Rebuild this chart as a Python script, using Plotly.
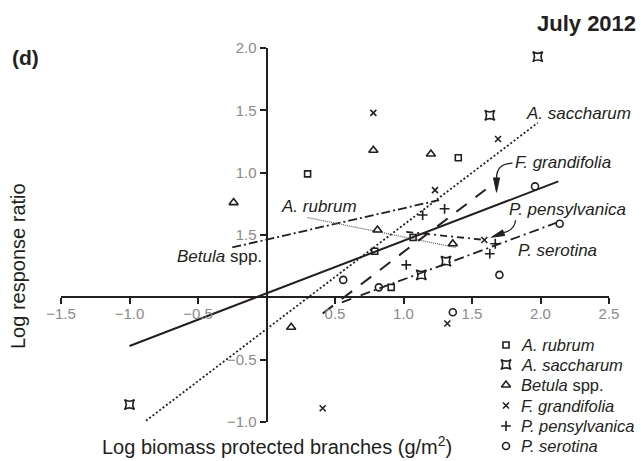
import plotly.graph_objects as go

# ---- observations: log biomass of protected branches vs log response ratio ----
legend_names = ["<i>A. rubrum</i>", "<i>A. saccharum</i>", "<i>Betula</i> spp.",
                "<i>F. grandifolia</i>", "<i>P. pensylvanica</i>", "<i>P. serotina</i>"]

rubrum_x = [0.30, 1.40, 0.79, 1.07, 0.91]
rubrum_y = [0.99, 1.12, 0.37, 0.48, 0.08]

saccharum_x = [1.98, 1.63, -1.00, 1.13, 1.31]
saccharum_y = [1.93, 1.46, -0.86, 0.18, 0.29]

betula_x = [-0.24, 0.18, 0.78, 1.20, 0.81, 1.36]
betula_y = [0.76, -0.24, 1.18, 1.15, 0.54, 0.43]

grandifolia_x = [0.78, 1.69, 1.23, 1.59, 1.32, 0.41]
grandifolia_y = [1.48, 1.27, 0.86, 0.46, -0.21, -0.89]

pensylvanica_x = [1.02, 1.14, 1.30, 1.67, 1.63]
pensylvanica_y = [0.26, 0.66, 0.71, 0.43, 0.35]

serotina_x = [0.56, 0.82, 1.36, 1.70, 1.96, 2.14]
serotina_y = [0.14, 0.08, -0.12, 0.18, 0.89, 0.59]

# ---- fitted regression lines (end points) ----
pooled_fit_x = [-1.00, 2.13]
pooled_fit_y = [-0.39, 0.93]
saccharum_fit_x = [-0.88, 1.98]
saccharum_fit_y = [-0.99, 1.40]
betula_fit_x = [-0.25, 1.26]
betula_fit_y = [0.40, 0.78]
rubrum_fit_x = [0.30, 1.38]
rubrum_fit_y = [0.64, 0.40]
grandifolia_fit_x = [0.41, 1.60]
grandifolia_fit_y = [-0.13, 0.865]
pensylvanica_fit_x = [1.02, 1.60]
pensylvanica_fit_y = [0.525, 0.46]
serotina_fit_x = [0.55, 2.12]
serotina_fit_y = [-0.04, 0.60]

# ---- tick labels ----
x_tickvals = [-1.5, -1.0, -0.5, 0.5, 1.0, 1.5, 2.0, 2.5]
x_ticktext = ["\u22121.5", "\u22121.0", "\u22120.5", "0.5", "1.0", "1.5", "2.0", "2.5"]
y_tickvals = [-1.0, -0.5, 0.5, 1.0, 1.5, 2.0]
y_ticktext = ["\u22121.0", "\u22120.5", "1.5", "1.0", "1.5", "2.0"]

X_RANGE = [-1.5, 2.5]
Y_RANGE = [-1.0, 2.0]

W, H = 641, 461
FRAME_L, FRAME_R, FRAME_T, FRAME_B = 61, 609, 48, 422   # data frame, in px

INK = "#231f20"
GREY = "#8a8a8a"
FONT = "Liberation Sans, Arial, Helvetica, sans-serif"

fig = go.Figure()

# regression lines
fits = [
    (pooled_fit_x, pooled_fit_y, dict(color=INK, width=2)),
    (saccharum_fit_x, saccharum_fit_y, dict(color=INK, width=1.8, dash="2px,2.2px")),
    (betula_fit_x, betula_fit_y, dict(color=INK, width=1.8, dash="9px,3px,2px,3px")),
    (rubrum_fit_x, rubrum_fit_y, dict(color="#666666", width=1.3, dash="1px,1px")),
    (grandifolia_fit_x, grandifolia_fit_y, dict(color=INK, width=2, dash="13px,11px")),
    (pensylvanica_fit_x, pensylvanica_fit_y, dict(color=INK, width=1.8, dash="7px,4px,2px,4px")),
    (serotina_fit_x, serotina_fit_y, dict(color=INK, width=1.8, dash="10px,4px,2px,4px")),
]
for fx, fy, ln in fits:
    fig.add_trace(go.Scatter(x=fx, y=fy, mode="lines", line=ln,
                             showlegend=False, hoverinfo="skip"))

# observed points, one trace per species
marker_styles = [
    ("square-open", 6),
    ("star-square-open", 9),
    ("triangle-up-open", 8),
    ("x-thin-open", 6),
    ("cross-thin-open", 7),
    ("circle-open", 7),
]
series = [(rubrum_x, rubrum_y), (saccharum_x, saccharum_y), (betula_x, betula_y),
          (grandifolia_x, grandifolia_y), (pensylvanica_x, pensylvanica_y),
          (serotina_x, serotina_y)]
for (px, py), (sym, sz), name in zip(series, marker_styles, legend_names):
    fig.add_trace(go.Scatter(
        x=px, y=py, mode="markers", name=name, cliponaxis=False, showlegend=False,
        marker=dict(symbol=sym, size=sz, color=INK, line=dict(color=INK, width=1.6)),
    ))

# key in the lower right, placed on a full-figure px-scaled axis pair (x2 / y2)
key_sym_x = 506
key_text_x = 519
key_rows_y = [345, 364.5, 385, 405.5, 426, 446]
for (sym, sz), name, ky in zip(marker_styles, legend_names, key_rows_y):
    fig.add_trace(go.Scatter(
        x=[key_sym_x], y=[ky], xaxis="x2", yaxis="y2", mode="markers",
        cliponaxis=False, showlegend=False, hoverinfo="skip",
        marker=dict(symbol=sym, size=sz, color=INK, line=dict(color=INK, width=1.6)),
    ))
    fig.add_annotation(xref="x2", yref="y2", x=key_text_x, y=ky, text=name,
                       showarrow=False, xanchor="left", yanchor="middle",
                       font=dict(family=FONT, size=16.5, color=INK))

# species labels on the lines
label_font = dict(family=FONT, size=17, color=INK)
labels = [
    (1.876, 1.478, "<i>A. saccharum</i>", "left"),
    (1.80, 1.079, "<i>F. grandifolia</i>", "left"),
    (1.752, 0.704, "<i>P. pensylvanica</i>", "left"),
    (1.818, 0.378, "<i>P. serotina</i>", "left"),
    (0.09, 0.725, "<i>A. rubrum</i>", "left"),
    (-0.015, 0.33, "<i>Betula</i> spp.", "right"),
]
for lx, ly, txt, anchor in labels:
    fig.add_annotation(x=lx, y=ly, text=txt, showarrow=False, xanchor=anchor,
                       yanchor="middle", font=label_font)

# curved leader arrows from labels to their lines, with filled heads
leader = dict(color=INK, width=1.3)
fig.add_shape(type="path", path="M 1.796,1.076 Q 1.679,1.076 1.679,0.956",
              line=leader, xref="x", yref="y")
fig.add_shape(type="path", path="M 1.657,0.958 L 1.701,0.958 L 1.679,0.843 Z",
              line=dict(color=INK, width=1), fillcolor=INK, xref="x", yref="y")
fig.add_shape(type="path", path="M 1.818,0.618 Q 1.810,0.538 1.730,0.519",
              line=leader, xref="x", yref="y")
fig.add_shape(type="path", path="M 1.739,0.496 L 1.723,0.541 L 1.642,0.482 Z",
              line=dict(color=INK, width=1), fillcolor=INK, xref="x", yref="y")

# panel letter and date
fig.add_annotation(xref="x2", yref="y2", x=10, y=57, text="<b>(d)</b>",
                   showarrow=False, xanchor="left", yanchor="middle",
                   font=dict(family=FONT, size=21, color=INK))
fig.add_annotation(xref="x2", yref="y2", x=638, y=23, text="<b>July 2012</b>",
                   showarrow=False, xanchor="right", yanchor="middle",
                   font=dict(family=FONT, size=22, color=INK))

# axis titles
fig.add_annotation(xref="x2", yref="y2", x=277, y=445,
                   text="Log biomass protected branches (g/m<sup>2</sup>)",
                   showarrow=False, xanchor="center", yanchor="middle",
                   font=dict(family=FONT, size=20, color=INK))
fig.add_annotation(xref="x2", yref="y2", x=18, y=266,
                   text="Log response ratio", textangle=-90,
                   showarrow=False, xanchor="center", yanchor="middle",
                   font=dict(family=FONT, size=20, color=INK))

# data axes: domains in figure fractions, each axis crossing the other at zero
x_dom = [FRAME_L / W, FRAME_R / W]
y_dom = [(H - FRAME_B) / H, (H - FRAME_T) / H]
x_zero = (0 - X_RANGE[0]) / (X_RANGE[1] - X_RANGE[0])
y_zero = (0 - Y_RANGE[0]) / (Y_RANGE[1] - Y_RANGE[0])

axis_common = dict(showgrid=False, zeroline=False, showline=True, linecolor=INK,
                   linewidth=2, ticks="outside", ticklen=6, tickwidth=1.6,
                   tickcolor=INK, tickfont=dict(family=FONT, size=15, color=GREY),
                   anchor="free")

fig.update_layout(
    width=W, height=H,
    margin=dict(l=0, r=0, t=0, b=0, autoexpand=False),
    paper_bgcolor="white", plot_bgcolor="rgba(0,0,0,0)",
    font=dict(family=FONT, color=INK),
    showlegend=False,
    xaxis=dict(range=X_RANGE, tickvals=x_tickvals, ticktext=x_ticktext, domain=x_dom,
               position=y_dom[0] + (y_dom[1] - y_dom[0]) * y_zero,
               ticklabelstandoff=-3, **axis_common),
    yaxis=dict(range=Y_RANGE, tickvals=y_tickvals, ticktext=y_ticktext, domain=y_dom,
               position=x_dom[0] + (x_dom[1] - x_dom[0]) * x_zero, **axis_common),
    xaxis2=dict(domain=[0, 1], range=[0, W], anchor="y2", visible=False),
    yaxis2=dict(domain=[0, 1], range=[H, 0], anchor="x2", visible=False),
)

fig.write_html("out.html")
